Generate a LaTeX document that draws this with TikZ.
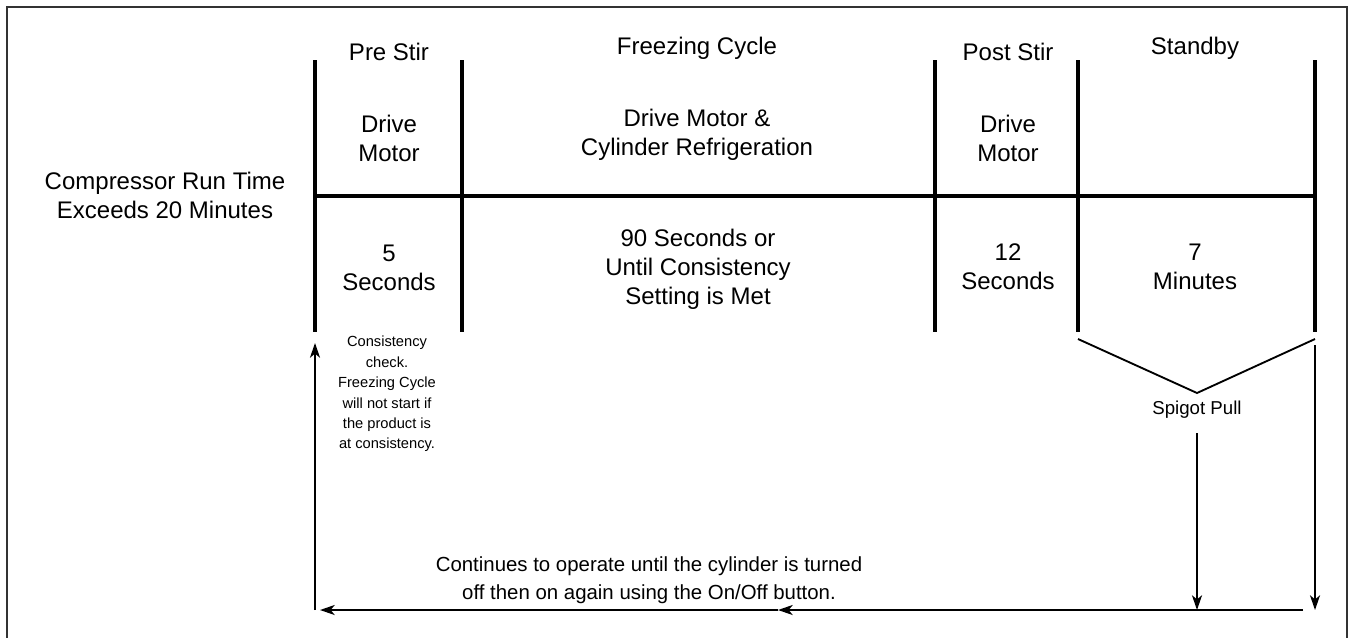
\documentclass[tikz,border=0pt]{standalone}
\usepackage{fontspec}
\setmainfont{Liberation Sans}
\usetikzlibrary{arrows.meta}
\begin{document}
\begin{tikzpicture}[x=0.75pt,y=-0.75pt,
  bar/.style={line width=3pt},
  thin/.style={line width=1.4pt},
  arr/.style={thin,-{Stealth[length=11pt,width=7.5pt,inset=3pt]}},
  lbl/.style={align=center,inner sep=0pt,font=\fontsize{18}{21.75}\selectfont},
  small/.style={align=center,inner sep=0pt,font=\fontsize{11}{15.3}\selectfont},
  note/.style={align=center,inner sep=0pt,font=\fontsize{15.3}{21}\selectfont}]
\useasboundingbox (0,0) rectangle (1349,637);
% frame
\draw[line width=1.5pt,black!80] (7,660) -- (7,7) -- (1347,7) -- (1347,660);
% coordinates
\coordinate (v1t) at (315,60);  \coordinate (v1b) at (315,332);
\coordinate (v2t) at (462,60);  \coordinate (v2b) at (462,332);
\coordinate (v3t) at (935,60);  \coordinate (v3b) at (935,332);
\coordinate (v4t) at (1078,60); \coordinate (v4b) at (1078,332);
\coordinate (v5t) at (1315,60); \coordinate (v5b) at (1315,332);
\coordinate (hl) at (315,196);  \coordinate (hr) at (1315,196);
\draw[bar] (v1t) -- (v1b);
\draw[bar] (v2t) -- (v2b);
\draw[bar] (v3t) -- (v3b);
\draw[bar] (v4t) -- (v4b);
\draw[bar] (v5t) -- (v5b);
\draw[bar] (hl) -- (hr);
% headers
\node[lbl] (h1) at (389,52) {Pre Stir};
\node[lbl] (h2) at (697,48) {Freezing Cycle};
\node[lbl] (h3) at (1008,52) {Post Stir};
\node[lbl] (h4) at (1195,48) {Standby};
% upper row
\node[lbl] (u1) at (389,138) {Drive\\Motor};
\node[lbl] (u2) at (697,135) {Drive Motor \&\\Cylinder Refrigeration};
\node[lbl] (u3) at (1008,138) {Drive\\Motor};
% lower row
\node[lbl] (l1) at (389,268) {5\\Seconds};
\node[lbl] (l2) at (698,269) {90 Seconds or\\Until Consistency\\Setting is Met};
\node[lbl] (l3) at (1008,267) {12\\Seconds};
\node[lbl] (l4) at (1195,267) {7\\Minutes};
% left label
\node[lbl] (cmp) at (165,195) {Compressor Run Time\\Exceeds 20 Minutes};
% small note
\node[small] (chk) at (387,394) {Consistency\\check.\\Freezing Cycle\\will not start if\\the product is\\at consistency.};
% spigot
\coordinate (sa) at (1078,339);
\coordinate (sb) at (1197,393);
\coordinate (sc) at (1315,339);
\draw[thin] (sa) -- (sb) -- (sc);
\node[lbl,font=\fontsize{14}{16}\selectfont] (sp) at (1197,410) {Spigot Pull};
% bottom note
\node[note] (cont) at (649,580) {Continues to operate until the cylinder is turned\\off then on again using the On/Off button.};
% arrows
\coordinate (spT) at (1197,433);
\coordinate (spB) at (1197,610);
\coordinate (rT) at (1315,345);
\coordinate (rB) at (1315,610);
\coordinate (bR) at (1303,610);
\coordinate (bM) at (778,610);
\coordinate (bL) at (320,610);
\coordinate (lB) at (315,610);
\coordinate (lT) at (315,343);
\draw[arr] (spT) -- (spB);
\draw[arr] (rT) -- (rB);
\draw[arr] (bR) -- (bM);
\draw[arr] (bM) -- (bL);
\draw[arr] (lB) -- (lT);
\end{tikzpicture}
\end{document}
